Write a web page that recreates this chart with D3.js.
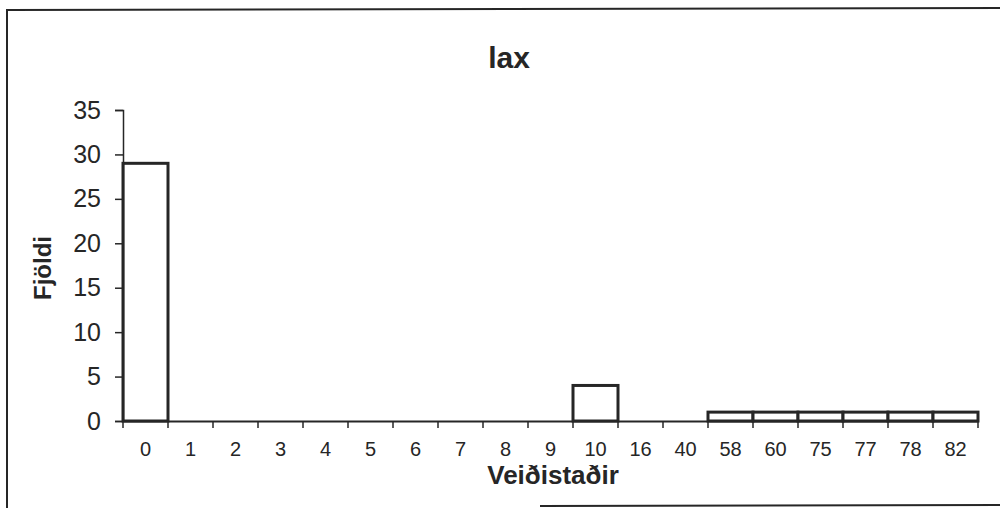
<!DOCTYPE html>
<html><head><meta charset="utf-8">
<script src="https://cdn.jsdelivr.net/npm/d3@7"></script>
<style>body{margin:0;background:#fff}svg{display:block}</style>
</head><body>
<svg id="c" width="1000" height="508"></svg>
<script>
const categories = ["0","1","2","3","4","5","6","7","8","9","10","16","40","58","60","75","77","78","82"];
const values = [29,0,0,0,0,0,0,0,0,0,4,0,0,1,1,1,1,1,1];
const yTicks = [0,5,10,15,20,25,30,35];
const titleText = "lax";
const xTitle = "Veiðistaðir";
const yTitle = "Fjöldi";

const svg = d3.select("#c");
const ink = "#262626";
const font = "Liberation Sans, Arial, Helvetica, sans-serif";

// frame
svg.append("path").attr("d","M7,508 L7,10 L1000,8").attr("fill","none").attr("stroke",ink).attr("stroke-width",2);
svg.append("line").attr("x1",540).attr("x2",1000).attr("y1",506).attr("y2",505).attr("stroke",ink).attr("stroke-width",2);

const x = d3.scaleBand().domain(categories).range([123,978]).padding(0);
const y = d3.scaleLinear().domain([0,35]).range([421,110]);

// bars
svg.append("g").selectAll("rect").data(values.map((v,i)=>({c:categories[i],v})).filter(d=>d.v>0))
  .join("rect")
  .attr("x",d=>x(d.c)).attr("width",x.bandwidth())
  .attr("y",d=>y(d.v)).attr("height",d=>y(0)-y(d.v))
  .attr("fill","#fff").attr("stroke",ink).attr("stroke-width",3);

// y axis
const ya = svg.append("g").attr("transform","translate(123,0)")
  .call(d3.axisLeft(y).tickValues(yTicks).tickSize(8).tickPadding(14));
ya.select(".domain").attr("stroke",ink).attr("stroke-width",1.5);
ya.selectAll(".tick line").attr("stroke",ink).attr("stroke-width",1.5);
ya.selectAll("text").attr("font-family",font).attr("font-size",25).attr("fill",ink);

// x axis
const xa = svg.append("g").attr("transform","translate(0,421)")
  .call(d3.axisBottom(x).tickSize(0).tickPadding(21));
xa.select(".domain").attr("stroke",ink).attr("stroke-width",2);
xa.selectAll("text").attr("font-family",font).attr("font-size",20).attr("fill",ink);
// boundary ticks
const bounds = categories.map(c=>x(c)).concat([x.range()[1]]);
xa.selectAll(".btick").data(bounds).join("line").attr("class","btick")
  .attr("x1",d=>d).attr("x2",d=>d).attr("y1",0).attr("y2",7)
  .attr("stroke",ink).attr("stroke-width",1.5);

// titles
svg.append("text").attr("x",509).attr("y",68).attr("text-anchor","middle")
  .attr("font-family",font).attr("font-weight","bold").attr("font-size",30).attr("fill",ink).text(titleText);
svg.append("text").attr("x",553).attr("y",484).attr("text-anchor","middle")
  .attr("font-family",font).attr("font-weight","bold").attr("font-size",26).attr("fill",ink).text(xTitle);
svg.append("text").attr("transform","translate(51,268) rotate(-90)").attr("text-anchor","middle")
  .attr("font-family",font).attr("font-weight","bold").attr("font-size",24).attr("fill",ink).text(yTitle);
</script>
</body></html>
